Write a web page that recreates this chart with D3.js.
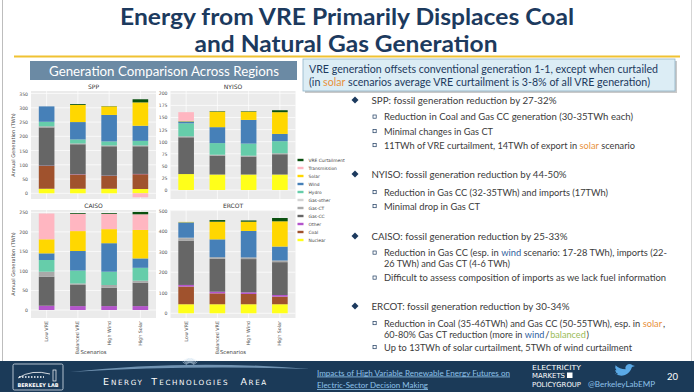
<!DOCTYPE html>
<html><head><meta charset="utf-8">
<script src="https://cdn.jsdelivr.net/npm/d3@7"></script>
<style>
body{margin:0;background:#fff;}
svg{display:block;}
</style></head><body>
<script>
// chart data
const scenarios = ["Low VRE", "Balanced VRE", "High Wind", "High Solar"];
const techs = ["Nuclear", "Coal", "Other", "Gas-CC", "Gas-CT", "Gas-other", "Hydro", "Wind", "Solar", "Transmission", "VRE Curtailment"];
// one row per scenario, values in techs order (TWh)
const sppValues = [
  [16, 80, 1, 134, 4, 0, 16, 54, 0, 0, 0],
  [16, 50, 1, 105, 3, 0, 14, 61, 60, 0, 3],
  [16, 45, 1, 103, 3, 0, 14, 93, 30, 0, 1],
  [15, 52, 1, 97, 3, 0, 16, 53, 82, -14, 11]
];
const nyisoValues = [
  [33, 0, 0, 76, 2, 0, 27, 4, 1, 18, 0],
  [32, 0, 0, 39, 2, 0, 24, 33, 32, 0, 1],
  [32, 0, 0, 37, 2, 0, 25, 49, 17, 0, 1],
  [32, 0, 0, 42, 2, 0, 25, 15, 45, 0, 4]
];
const caisoValues = [
  [0, 0, 11, 74, 13, 0, 30, 17, 36, 66, 0],
  [0, 0, 10, 54, 4, 0, 33, 50, 51, 44, 2],
  [0, 0, 10, 47, 7, 0, 34, 73, 36, 39, 2],
  [0, 0, 10, 60, 5, 0, 33, 24, 73, 40, 6]
];
const ercotValues = [
  [44, 86, 8, 216, 12, 2, 0, 75, 2, 0, 0],
  [44, 53, 8, 160, 8, 0, 0, 87, 86, 0, 8],
  [44, 50, 8, 162, 8, 0, 0, 129, 45, 0, 6],
  [44, 37, 8, 160, 8, 0, 0, 68, 123, 0, 16]
];
const sppTicks = [0, 50, 100, 150, 200, 250, 300, 350];
const nyisoTicks = [0, 25, 50, 75, 100, 125, 150, 175, 200];
const caisoTicks = [0, 50, 100, 150, 200, 250];
const ercotTicks = [0, 100, 200, 300, 400, 500];

const techColors = {
  "Nuclear": "#ffff1a", "Coal": "#a0522d", "Other": "#b455cc", "Gas-CC": "#666666",
  "Gas-CT": "#a9a9a9", "Gas-other": "#d3d3d3", "Hydro": "#66cdaa", "Wind": "#4680b8",
  "Solar": "#ffd700", "Transmission": "#ffb6c1", "VRE Curtailment": "#0a500f"
};

const W = 694, H = 392;
const navy = "#1c3a5e";
const svg = d3.select("body").append("svg").attr("width", W).attr("height", H)
  .style("font-family", "Lato, 'Open Sans', sans-serif");

// slide frame
svg.append("line").attr("x1", 2.5).attr("x2", 2.5).attr("y1", 0).attr("y2", 361).attr("stroke", "#bdbdbd");
svg.append("line").attr("x1", 691.5).attr("x2", 691.5).attr("y1", 0).attr("y2", 361).attr("stroke", "#d5d5d5");

// title
svg.append("text").attr("x", 347).attr("y", 24.5).attr("text-anchor", "middle")
  .attr("font-size", 22).attr("font-weight", "bold").attr("fill", navy)
  .attr("textLength", 454).attr("lengthAdjust", "spacingAndGlyphs")
  .text("Energy from VRE Primarily Displaces Coal");
svg.append("text").attr("x", 346).attr("y", 51.5).attr("text-anchor", "middle")
  .attr("font-size", 22).attr("font-weight", "bold").attr("fill", navy)
  .attr("textLength", 303).attr("lengthAdjust", "spacingAndGlyphs")
  .text("and Natural Gas Generation");
svg.append("line").attr("x1", 14).attr("x2", 680).attr("y1", 56.5).attr("y2", 56.5)
  .attr("stroke", "#f0c232").attr("stroke-width", 2);

// section header
svg.append("rect").attr("x", 30).attr("y", 61).attr("width", 267).attr("height", 19).attr("fill", "#6b8aa4");
svg.append("text").attr("x", 164).attr("y", 75.5).attr("text-anchor", "middle")
  .attr("font-size", 12.5).attr("fill", "#fff")
  .attr("textLength", 230).attr("lengthAdjust", "spacingAndGlyphs")
  .text("Generation Comparison Across Regions");

// callout box
svg.append("rect").attr("x", 305).attr("y", 61).attr("width", 372).attr("height", 32).attr("fill", "#c9c9c9");
svg.append("rect").attr("x", 303).attr("y", 59).attr("width", 372).attr("height", 32)
  .attr("fill", "#dcedf5").attr("stroke", "#8fb3c8").attr("stroke-width", 0.8);

// a line of text with highlighted words, fitted to a target width
function richText(g, x, y, str, size, fill, len) {
  const hl = { "*": "#e8913c", "#": "#2f5f9e", "~": "#9bbb59" };
  const segs = str.split(/([*#~][^*#~]+[*#~])/).filter(s => s).map(s => {
    const c = hl[s[0]];
    const raw = (c && s.length > 2 && s[s.length - 1] === s[0]) ? s.slice(1, -1) : s;
    return { t: raw.trim(), c: (c && raw !== s) ? c : fill, lead: /^\s/.test(raw), trail: /\s$/.test(raw) };
  });
  const probe = g.append("text").attr("font-size", size).style("white-space", "pre").text("x x");
  const withSpace = probe.node().getComputedTextLength();
  probe.text("xx");
  const sw = withSpace - probe.node().getComputedTextLength();
  probe.remove();
  const nodes = segs.map(s => g.append("text").attr("y", y).attr("font-size", size).attr("fill", s.c).text(s.t));
  const widths = nodes.map(n => n.node().getComputedTextLength());
  // gaps between segments: a space if there is one, else a hairline
  const gaps = segs.slice(1).map((s, i) => (segs[i].trail || s.lead) ? sw : 0.8);
  const k = (len - d3.sum(gaps)) / d3.sum(widths);
  let cx = x;
  nodes.forEach((n, i) => {
    n.attr("x", cx).attr("textLength", widths[i] * k).attr("lengthAdjust", "spacingAndGlyphs");
    cx += widths[i] * k + (i < gaps.length ? gaps[i] : 0);
  });
}
richText(svg, 309, 73, "VRE generation offsets conventional generation 1-1, except when curtailed", 10.5, navy, 349);
richText(svg, 309, 86, "(in *solar* scenarios average VRE curtailment is 3-8% of all VRE generation)", 10.5, navy, 341);

// bullets: [level, text, baseline, width]
const bullets = [
  [0, "SPP: fossil generation reduction by 27-32%", 103.5, 185],
  [1, "Reduction in Coal and Gas CC generation (30-35TWh each)", 120, 249],
  [1, "Minimal changes in Gas CT", 134.5, 109],
  [1, "11TWh of VRE curtailment, 14TWh of export in *solar* scenario", 148.5, 251],
  [0, "NYISO: fossil generation reduction by 44-50%", 177.5, 195],
  [1, "Reduction in Gas CC (32-35TWh) and imports (17TWh)", 195.5, 224],
  [1, "Minimal drop in Gas CT", 209.5, 96],
  [0, "CAISO: fossil generation reduction by 25-33%", 239.5, 196],
  [1, "Reduction in Gas CC (esp. in #wind# scenario: 17-28 TWh), imports (22-", 256, 283],
  [2, "26 TWh) and Gas CT (4-6 TWh)", 267, 126],
  [1, "Difficult to assess composition of imports as we lack fuel information", 281, 282],
  [0, "ERCOT: fossil generation reduction by 30-34%", 309.5, 198],
  [1, "Reduction in Coal (35-46TWh) and Gas CC (50-55TWh), esp. in *solar*,", 326.5, 281],
  [2, "60-80% Gas CT reduction (more in #wind#/~balanced~)", 337.5, 205],
  [1, "Up to 13TWh of solar curtailment, 5TWh of wind curtailment", 350.5, 248]
];
const bg = svg.append("g");
bullets.forEach(([lvl, txt, y, len]) => {
  if (lvl === 0) {
    bg.append("path").attr("d", `M355,${y - 7} l3.5,3.5 l-3.5,3.5 l-3.5,-3.5 z`).attr("fill", navy);
    richText(bg, 371.5, y, txt, 10, "#3b3b3b", len);
  } else {
    if (lvl === 1) {
      bg.append("rect").attr("x", 373).attr("y", y - 5).attr("width", 3.2).attr("height", 3.2)
        .attr("fill", "none").attr("stroke", navy).attr("stroke-width", 0.7);
    }
    richText(bg, 384, y, txt, 9.4, "#3b3b3b", len);
  }
});

// footer
const fy = 361;
svg.append("rect").attr("x", 0).attr("y", fy).attr("width", W).attr("height", H - fy).attr("fill", "#1b3a58");
svg.append("path").attr("d", `M70,${fy + 11} Q190,${fy - 2} 310,${fy + 8} Q190,${fy + 4} 70,${fy + 11} Z`).attr("fill", "#8fb2d0").attr("opacity", 0.75);
d3.range(-6, 7).forEach(k => {
  const a = -Math.PI / 2 + k * 0.16;
  svg.append("line").attr("x1", 190 + Math.cos(a) * 4).attr("y1", fy + 6 + Math.sin(a) * 4)
    .attr("x2", 190 + Math.cos(a) * 9).attr("y2", fy + 6 + Math.sin(a) * 9)
    .attr("stroke", "#c8dcec").attr("stroke-width", 0.6);
});
svg.append("rect").attr("x", 13).attr("y", fy + 3).attr("width", 50).attr("height", 26).attr("rx", 1.5)
  .attr("fill", "none").attr("stroke", "#d8e2ec").attr("stroke-width", 0.8);
svg.append("path").attr("d", `M18,${fy + 17} Q32,${fy + 8} 50,${fy + 13}`).attr("fill", "none").attr("stroke", "#fff").attr("stroke-width", 0.8);
svg.append("path").attr("d", `M19,${fy + 16} L44,${fy + 16}`).attr("stroke", "#fff").attr("stroke-width", 1.5).attr("stroke-dasharray", "1.5,1.5");
svg.append("rect").attr("x", 53).attr("y", fy + 9).attr("width", 3).attr("height", 11).attr("fill", "none").attr("stroke", "#fff").attr("stroke-width", 0.7);
svg.append("text").attr("x", 38).attr("y", fy + 25.5).attr("text-anchor", "middle").attr("font-size", 5)
  .attr("font-weight", "bold").attr("fill", "#fff").attr("font-family", "'DejaVu Sans'").text("BERKELEY LAB");
// small caps wordmark
const eta = svg.append("g").attr("fill", "#fff").style("font-family", "'DejaVu Sans', sans-serif");
let ex = 103;
["ENERGY", "TECHNOLOGIES", "AREA"].forEach(w => {
  eta.append("text").attr("x", ex).attr("y", fy + 23.5).attr("font-size", 9.5).text(w[0]);
  eta.append("text").attr("x", ex + 8).attr("y", fy + 23.5).attr("font-size", 7.2)
    .attr("letter-spacing", 1.6).text(w.slice(1));
  ex += 8 + (w.length - 1) * 6.85 + 6;
});
[["Impacts of High Variable Renewable Energy Futures on", fy + 14.5, 193], ["Electric-Sector Decision Making", fy + 27, 111]].forEach(([t, y, l]) => {
  svg.append("text").attr("x", 317).attr("y", y).attr("font-size", 8.2).attr("fill", "#8ec2ea")
    .attr("text-decoration", "underline").attr("textLength", l).attr("lengthAdjust", "spacingAndGlyphs").text(t);
});
const emp = svg.append("g").attr("fill", "#fff").style("font-family", "'DejaVu Sans Condensed', 'DejaVu Sans', sans-serif");
emp.append("text").attr("x", 532).attr("y", fy + 8.5).attr("font-size", 7).attr("textLength", 49).attr("lengthAdjust", "spacingAndGlyphs").text("ELECTRICITY");
emp.append("text").attr("x", 532).attr("y", fy + 17).attr("font-size", 7).attr("textLength", 33).attr("lengthAdjust", "spacingAndGlyphs").text("MARKETS");
emp.append("rect").attr("x", 567).attr("y", fy + 11.5).attr("width", 5.5).attr("height", 5.5).attr("fill", "#fff");
emp.append("text").attr("x", 532).attr("y", fy + 25.5).attr("font-size", 7).attr("textLength", 49).attr("lengthAdjust", "spacingAndGlyphs").text("POLICYGROUP");
svg.append("path").attr("d", `M615,${fy + 12} q4,4 10,2 q5,-2 7,-8 l3,-1 l-2.5,-0.8 q-3,-2.5 -6,0 q-2,2 -1,4 q-6,0 -10,-4 q-1,3 1,5 l-1.5,0 q1,3 3,3.5 q-2,1.5 -3,-0.7 z`).attr("fill", "#5aa9e6");
svg.append("text").attr("x", 588).attr("y", fy + 26).attr("font-size", 7.5).attr("fill", "#8ec2ea")
  .attr("textLength", 67).attr("lengthAdjust", "spacingAndGlyphs").text("@BerkeleyLabEMP");
svg.append("text").attr("x", 667).attr("y", fy + 19).attr("font-size", 9.5).attr("fill", "#fff").text("20");

// chart panels
const panels = [
  { name: "SPP", values: sppValues, ticks: sppTicks, x0: 31, x1: 156, top: 91, bottom: 199, domain: [-20, 359], ylab: true, xlab: false },
  { name: "NYISO", values: nyisoValues, ticks: nyisoTicks, x0: 170.5, x1: 295.5, top: 91, bottom: 199, domain: [-18.6, 204.8], ylab: false, xlab: false },
  { name: "CAISO", values: caisoValues, ticks: caisoTicks, x0: 31, x1: 156, top: 210, bottom: 318, domain: [-20.5, 256], ylab: true, xlab: true },
  { name: "ERCOT", values: ercotValues, ticks: ercotTicks, x0: 170.5, x1: 295.5, top: 210, bottom: 318, domain: [-23, 503], ylab: false, xlab: true }
];
const chartFont = "'DejaVu Sans', sans-serif";

panels.forEach(p => {
  const g = svg.append("g").style("font-family", chartFont);
  const x = d3.scaleLinear().domain([-0.5, 3.5]).range([p.x0, p.x1]);
  const y = d3.scaleLinear().domain(p.domain).range([p.bottom, p.top]);
  g.append("rect").attr("x", p.x0).attr("y", p.top).attr("width", p.x1 - p.x0).attr("height", p.bottom - p.top).attr("fill", "#ebebeb");
  g.selectAll(".hg").data(p.ticks).enter().append("line")
    .attr("x1", p.x0).attr("x2", p.x1).attr("y1", d => y(d)).attr("y2", d => y(d))
    .attr("stroke", "#fff").attr("stroke-width", 0.7);
  g.selectAll(".vg").data(scenarios).enter().append("line")
    .attr("x1", (d, i) => x(i)).attr("x2", (d, i) => x(i)).attr("y1", p.top).attr("y2", p.bottom)
    .attr("stroke", "#fff").attr("stroke-width", 0.7);

  const rows = scenarios.map((s, i) => {
    const o = { scenario: s };
    techs.forEach((t, j) => { o[t] = p.values[i][j]; });
    return o;
  });
  const series = d3.stack().keys(techs).offset(d3.stackOffsetDiverging)(rows);
  const bw = x(0.5) - x(0);
  g.selectAll(".layer").data(series).enter().append("g")
    .attr("fill", d => techColors[d.key])
    .selectAll("rect").data(d => d.filter(v => v[1] !== v[0])).enter().append("rect")
    .attr("x", d => x(scenarios.indexOf(d.data.scenario)) - bw / 2)
    .attr("width", bw)
    .attr("y", d => y(Math.max(d[0], d[1])))
    .attr("height", d => Math.abs(y(d[0]) - y(d[1])));

  const ax = g.append("g").attr("transform", `translate(${p.x0},0)`)
    .call(d3.axisLeft(y).tickValues(p.ticks).tickSize(0).tickPadding(3));
  ax.select(".domain").remove();
  ax.selectAll("text").attr("font-size", 4.6).attr("fill", "#555").style("font-family", chartFont);

  g.append("text").attr("x", (p.x0 + p.x1) / 2).attr("y", p.top - 2.5).attr("text-anchor", "middle")
    .attr("font-size", 6).attr("fill", "#333").text(p.name);
  if (p.ylab) {
    g.append("text").attr("transform", `translate(14.5,${(p.top + p.bottom) / 2}) rotate(-90)`)
      .attr("text-anchor", "middle").attr("font-size", 5).attr("fill", "#444").text("Annual Generation (TWh)");
  }
  if (p.xlab) {
    g.selectAll(".xl").data(scenarios).enter().append("text")
      .attr("transform", (d, i) => `translate(${x(i) + 1.6},${p.bottom + 3}) rotate(-90)`)
      .attr("text-anchor", "end").attr("font-size", 4.8).attr("fill", "#555").text(d => d);
    g.append("text").attr("x", (p.x0 + p.x1) / 2).attr("y", 354).attr("text-anchor", "middle")
      .attr("font-size", 5.4).attr("fill", "#444").text("Scenarios");
  }
});

// legend
const lg = svg.append("g").style("font-family", chartFont);
techs.slice().reverse().forEach((t, i) => {
  const yy = 160 + i * 8;
  lg.append("rect").attr("x", 297.5).attr("y", yy - 1.2).attr("width", 6).attr("height", 2.4).attr("fill", techColors[t]);
  lg.append("text").attr("x", 308.5).attr("y", yy + 1.6).attr("font-size", 4.4).attr("fill", "#444").text(t);
});
</script>
</body></html>
